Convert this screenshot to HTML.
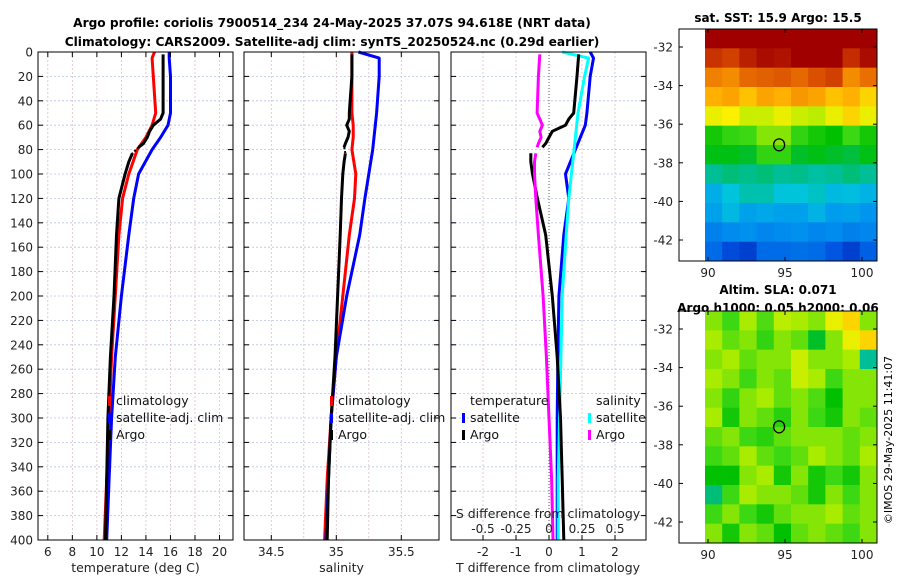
<!DOCTYPE html>
<html><head><meta charset="utf-8"><style>
body{margin:0;background:#fff;}
svg{display:block;font-family:"DejaVu Sans","Liberation Sans",sans-serif;}
</style></head><body>
<svg id="fig" width="900" height="580" viewBox="0 0 900 580">
<text x="332" y="27" text-anchor="middle" font-size="12.2" font-weight="bold">Argo profile: coriolis 7900514_234 24-May-2025 37.07S 94.618E (NRT data)</text>
<text x="332" y="46" text-anchor="middle" font-size="12.2" font-weight="bold">Climatology: CARS2009. Satellite-adj clim: synTS_20250524.nc (0.29d earlier)</text>
<text x="778" y="22" text-anchor="middle" font-size="12" font-weight="bold">sat. SST: 15.9 Argo: 15.5</text>
<text x="778" y="294" text-anchor="middle" font-size="12" font-weight="bold">Altim. SLA: 0.071</text>
<text x="778" y="312" text-anchor="middle" font-size="12" font-weight="bold">Argo h1000: 0.05 h2000: 0.06</text>
<text transform="translate(892,440) rotate(-90)" text-anchor="middle" font-size="11">©IMOS 29-May-2025 11:41:07</text>
<g id="plots"></g>
</svg>
<script>
// ---- profile data ----
const depths = [0, 5, 20, 50, 60, 70, 80, 100, 120, 150, 200, 250, 300, 350, 400];
const climTemp = [14.7, 14.5, 14.6, 14.8, 14.5, 14.0, 13.3, 12.6, 12.1, 11.8, 11.5, 11.2, 11.0, 10.8, 10.6];
const satTemp = [15.9, 15.9, 16.0, 16.0, 15.8, 15.2, 14.5, 13.4, 13.0, 12.6, 12.0, 11.5, 11.2, 11.0, 10.8];
const climSal = [35.12, 35.12, 35.12, 35.12, 35.13, 35.13, 35.12, 35.15, 35.14, 35.10, 35.05, 35.00, 34.96, 34.93, 34.91];
const satSal = [35.17, 35.33, 35.33, 35.31, 35.30, 35.29, 35.28, 35.25, 35.22, 35.18, 35.08, 35.00, 34.96, 34.94, 34.92];
const argoDepthsA = [2, 20, 50, 55, 60, 65, 70, 75, 78];
const argoTempA = [15.4, 15.4, 15.4, 15.2, 14.6, 14.3, 14.1, 13.8, 13.4];
const argoSalA = [35.12, 35.12, 35.10, 35.10, 35.08, 35.10, 35.09, 35.07, 35.06];
const argoDepthsB = [83, 90, 100, 120, 150, 200, 250, 300, 350, 400];
const argoTempB = [12.9, 12.6, 12.3, 11.8, 11.6, 11.4, 11.1, 10.9, 10.8, 10.7];
const argoSalB = [35.07, 35.06, 35.05, 35.04, 35.03, 35.01, 34.99, 34.96, 34.94, 34.93];
const diffSatT = [1.25, 1.35, 1.25, 1.15, 1.1, 0.95, 0.8, 0.5, 0.6, 0.45, 0.3, 0.27, 0.25, 0.25, 0.25];
const diffSatS = [0.1, 0.3, 0.27, 0.22, 0.21, 0.2, 0.19, 0.17, 0.15, 0.13, 0.1, 0.09, 0.08, 0.07, 0.07];
const diffArgoTA = [0.9, 0.85, 0.75, 0.6, 0.5, 0.1, 0.0, -0.1, -0.2];
const diffArgoSA = [-0.07, -0.08, -0.09, -0.07, -0.05, -0.07, -0.06, -0.08, -0.09];
const diffArgoTB = [-0.55, -0.55, -0.5, -0.35, -0.1, 0.1, 0.25, 0.35, 0.4, 0.45];
const diffArgoSB = [-0.1, -0.11, -0.11, -0.1, -0.08, -0.045, -0.02, 0.0, 0.02, 0.03];
const depthTicks = [0,20,40,60,80,100,120,140,160,180,200,220,240,260,280,300,320,340,360,380,400];
const tempTicks = [6,8,10,12,14,16,18,20];
const salTicks = [34.5,35,35.5];
const tdTicks = [-2,-1,0,1,2];
const sdTicks = [-0.5,-0.25,0,0.25,0.5];
const sdTickLabels = ["-0.5","-0.25","0","0.25","0.5"];
// ---- map data (colormap fraction) ----
const sstGrid = [
[1.0,1.0,1.0,1.0,1.0,1.0,1.0,1.0,1.0,1.0],
[0.92,0.9,0.95,0.98,0.97,1.0,1.0,1.0,0.93,0.98],
[0.82,0.8,0.85,0.86,0.87,0.85,0.88,0.9,0.8,0.84],
[0.74,0.76,0.72,0.76,0.74,0.78,0.76,0.72,0.74,0.7],
[0.66,0.67,0.64,0.64,0.66,0.64,0.63,0.66,0.7,0.66],
[0.52,0.55,0.56,0.6,0.6,0.55,0.52,0.5,0.56,0.52],
[0.49,0.49,0.48,0.55,0.55,0.48,0.49,0.48,0.47,0.49],
[0.42,0.44,0.43,0.44,0.42,0.43,0.41,0.42,0.44,0.42],
[0.32,0.36,0.4,0.4,0.36,0.36,0.38,0.34,0.35,0.33],
[0.3,0.34,0.3,0.31,0.3,0.3,0.33,0.29,0.3,0.28],
[0.24,0.26,0.27,0.25,0.26,0.27,0.25,0.26,0.24,0.25],
[0.2,0.14,0.12,0.2,0.2,0.21,0.2,0.16,0.12,0.18]];
const slaGrid = [
[0.6,0.56,0.62,0.57,0.63,0.62,0.6,0.66,0.7,0.6],
[0.62,0.58,0.6,0.55,0.6,0.58,0.48,0.6,0.66,0.7],
[0.6,0.62,0.58,0.6,0.6,0.64,0.6,0.6,0.62,0.42],
[0.62,0.6,0.56,0.6,0.58,0.64,0.62,0.56,0.6,0.6],
[0.6,0.55,0.6,0.62,0.58,0.6,0.57,0.5,0.6,0.6],
[0.62,0.52,0.6,0.58,0.54,0.6,0.56,0.52,0.6,0.58],
[0.58,0.6,0.56,0.54,0.58,0.6,0.6,0.6,0.58,0.6],
[0.56,0.58,0.62,0.58,0.56,0.58,0.62,0.6,0.58,0.62],
[0.5,0.5,0.6,0.62,0.52,0.6,0.52,0.56,0.52,0.6],
[0.44,0.56,0.62,0.6,0.6,0.58,0.52,0.6,0.56,0.6],
[0.56,0.6,0.56,0.52,0.58,0.6,0.6,0.62,0.58,0.6],
[0.6,0.52,0.6,0.58,0.5,0.58,0.6,0.58,0.56,0.6]];
const argoLon = 94.618, argoLat = -37.07;
const lonTicks = [90,95,100];
const latTicks = [-32,-34,-36,-38,-40,-42];

const NS = "http://www.w3.org/2000/svg";
const root = document.getElementById('plots');
function mk(tag, attrs, parent){const e=document.createElementNS(NS,tag);for(const k in attrs)e.setAttribute(k,attrs[k]);(parent||root).appendChild(e);return e;}

const PT = 52, PB = 540;
const yD = d => PT + d/400*(PB-PT);
function axisPanel(x0, x1, xmin, xmax, name){
  const g = mk('g',{});
  
  
  const sx = v => x0 + (v-xmin)/(xmax-xmin)*(x1-x0);
  return {g, sx};
}
function grid(g, x0, x1, xs){
  depthTicks.forEach(d=>{ if(d>0&&d<400){const l=mk('line',{x1:x0,x2:x1,y1:yD(d),y2:yD(d),stroke:'#b8c4e8','stroke-width':0.8,'stroke-dasharray':'2,2'},g);
    
    }});
  xs.forEach(x=>{const l=mk('line',{x1:x,x2:x,y1:PT,y2:PB,stroke:'#d8c0c8','stroke-width':0.8,'stroke-dasharray':'2,2'},g);
    
    });
}
function frame(g, x0, x1, yLabels){
  const r=mk('rect',{x:x0,y:PT,width:x1-x0,height:PB-PT,fill:'none',stroke:'#000','stroke-width':1},g);
  
  
  depthTicks.forEach(d=>{
    mk('line',{x1:x0,x2:x0+5,y1:yD(d),y2:yD(d),stroke:'#000'},g);
    mk('line',{x1:x1-5,x2:x1,y1:yD(d),y2:yD(d),stroke:'#000'},g);
    if(yLabels){const t=mk('text',{x:x0-5,y:yD(d)+4.5,'text-anchor':'end','font-size':12,fill:'#222'},g);t.textContent=d;
      
      }
  });
}
function xticks(g, sx, ticks, labels, y, topToo){
  ticks.forEach((v,i)=>{
    const x=sx(v);
    mk('line',{x1:x,x2:x,y1:PB-5,y2:PB,stroke:'#000'},g);
    if(topToo) mk('line',{x1:x,x2:x,y1:PT,y2:PT+5,stroke:'#000'},g);
    const t=mk('text',{x:x,y:y,'text-anchor':'middle','font-size':12,fill:'#222'},g);t.textContent=labels[i];
    
    
  });
}
function line(g, xs, ds, sx, color, name, w){
  const p=mk('polyline',{points:xs.map((v,i)=>sx(v).toFixed(1)+','+yD(ds[i]).toFixed(1)).join(' '),fill:'none',stroke:color,'stroke-width':w||3,'stroke-linejoin':'round'},g);
  
  
  return p;
}
function legend(g, x, y, items){
  items.forEach((it,i)=>{
    if(it.c){mk('rect',{x:x,y:y+i*17-9,width:3,height:10,fill:it.c},g);}
    const t=mk('text',{x:x+8,y:y+i*17,'font-size':12.5,fill:'#111'},g);t.textContent=it.t;
    
    
  });
}

// Panel 1: temperature
(function(){
  const x0=38,x1=233;const {g,sx}=axisPanel(x0,x1,5.2,21.1,'temperature-panel');
  grid(g,x0,x1,tempTicks.map(sx));
  line(g,climTemp,depths,sx,'#f00','climatology-temp-line');
  line(g,satTemp,depths,sx,'#00f','satellite-temp-line');
  line(g,argoTempA,argoDepthsA,sx,'#000','argo-temp-line-upper');
  line(g,[argoTempA[argoTempA.length-1],argoTempB[0]],[argoDepthsA[argoDepthsA.length-1],argoDepthsB[0]],sx,'#000','argo-temp-gap',2).setAttribute('stroke-dasharray','2,2');
  line(g,argoTempB,argoDepthsB,sx,'#000','argo-temp-line-lower');
  frame(g,x0,x1,true);
  xticks(g,sx,tempTicks,tempTicks,556,true);
  const t=mk('text',{x:(x0+x1)/2,y:572,'text-anchor':'middle','font-size':12.5,fill:'#222'},g);t.textContent='temperature (deg C)';
  
  
  legend(g,108,405,[{c:'#f00',t:'climatology'},{c:'#00f',t:'satellite-adj. clim'},{c:'#000',t:'Argo'}]);
})();
// Panel 2: salinity
(function(){
  const x0=244,x1=439;const {g,sx}=axisPanel(x0,x1,34.29,35.79,'salinity-panel');
  grid(g,x0,x1,[34.5,34.75,35,35.25,35.5].map(sx));
  line(g,climSal,depths,sx,'#f00','climatology-sal-line');
  line(g,satSal,depths,sx,'#00f','satellite-sal-line');
  line(g,argoSalA,argoDepthsA,sx,'#000','argo-sal-line-upper');
  line(g,[argoSalA[argoSalA.length-1],argoSalB[0]],[argoDepthsA[argoDepthsA.length-1],argoDepthsB[0]],sx,'#000','argo-sal-gap',2).setAttribute('stroke-dasharray','2,2');
  line(g,argoSalB,argoDepthsB,sx,'#000','argo-sal-line-lower');
  frame(g,x0,x1,false);
  xticks(g,sx,salTicks,salTicks,556,true);
  const t=mk('text',{x:(x0+x1)/2,y:572,'text-anchor':'middle','font-size':12.5,fill:'#222'},g);t.textContent='salinity';
  
  
  legend(g,330,405,[{c:'#f00',t:'climatology'},{c:'#00f',t:'satellite-adj. clim'},{c:'#000',t:'Argo'}]);
})();
// Panel 3: differences
(function(){
  const x0=451,x1=646;const {g,sx}=axisPanel(x0,x1,-2.97,2.94,'difference-panel');
  const ss = v => sx(v*4);
  grid(g,x0,x1,[-2,-1,1,2].map(sx));
  const z=mk('line',{x1:sx(0),x2:sx(0),y1:PT,y2:PB,stroke:'#555','stroke-width':1,'stroke-dasharray':'1,2'},g);
  
  
  line(g,diffSatT,depths,sx,'#00f','satellite-temp-diff-line');
  line(g,diffSatS,depths,ss,'#0ff','satellite-sal-diff-line');
  line(g,diffArgoTA,argoDepthsA,sx,'#000','argo-temp-diff-upper');
  line(g,diffArgoTB,argoDepthsB,sx,'#000','argo-temp-diff-lower');
  line(g,diffArgoSA,argoDepthsA,ss,'#f0f','argo-sal-diff-upper');
  line(g,diffArgoSB,argoDepthsB,ss,'#f0f','argo-sal-diff-lower');
  frame(g,x0,x1,false);
  xticks(g,sx,tdTicks,tdTicks,556,false);
  sdTicks.forEach((v,i)=>{const t=mk('text',{x:ss(v),y:533,'text-anchor':'middle','font-size':12,fill:'#222'},g);t.textContent=sdTickLabels[i];
    
    });
  const s=mk('text',{x:548,y:518,'text-anchor':'middle','font-size':12.5,fill:'#222'},g);s.textContent='S difference from climatology';
  
  
  const t=mk('text',{x:548,y:572,'text-anchor':'middle','font-size':12.5,fill:'#222'},g);t.textContent='T difference from climatology';
  
  
  legend(g,462,405,[{t:'temperature'},{c:'#00f',t:'satellite'},{c:'#000',t:'Argo'}]);
  legend(g,588,405,[{t:'salinity'},{c:'#0ff',t:'satellite'},{c:'#f0f',t:'Argo'}]);
})();
// Maps
const cmapStops = [[0,[0,0,140]],[0.15,[0,80,224]],[0.28,[0,150,240]],[0.36,[0,196,220]],[0.43,[0,190,140]],[0.5,[0,192,0]],[0.56,[60,216,20]],[0.62,[170,236,0]],[0.67,[250,240,0]],[0.74,[255,176,0]],[0.82,[240,128,0]],[0.9,[210,64,0]],[1,[160,0,0]]];
function cmap(v){
  v=Math.max(0,Math.min(1,v));
  for(let i=1;i<cmapStops.length;i++){
    if(v<=cmapStops[i][0]){const a=cmapStops[i-1],b=cmapStops[i];const f=(v-a[0])/(b[0]-a[0]);
      return 'rgb('+a[1].map((c,k)=>Math.round(c+(b[1][k]-c)*f)).join(',')+')';}
  }
  return 'rgb(160,0,0)';
}
function drawMap(top, gridv, name){
  const bx0=679,bx1=877,by0=top,by1=top+232,dx0=705;
  const g=mk('g',{});
  
  
  const lonX = lo => 708 + (lo-90)*15.4;
  const latY = la => top+18 + (-32-la)*19.3;
  const rows=gridv.length, cols=gridv[0].length;
  const cw=(bx1-dx0)/cols, ch=(by1-by0)/rows;
  gridv.forEach((row,r)=>row.forEach((v,c)=>{
    const cell=mk('rect',{x:(dx0+c*cw).toFixed(2),y:(by0+r*ch).toFixed(2),width:(cw+0.5).toFixed(2),height:(ch+0.5).toFixed(2),fill:cmap(v)},g);
    
    
  }));
  const fr=mk('rect',{x:bx0,y:by0,width:bx1-bx0,height:by1-by0,fill:'none',stroke:'#000'},g);
  
  
  latTicks.forEach(la=>{const y=latY(la);mk('line',{x1:bx0,x2:bx0+4,y1:y,y2:y,stroke:'#000'},g);mk('line',{x1:bx1-4,x2:bx1,y1:y,y2:y,stroke:'#000'},g);
    const t=mk('text',{x:bx0-6,y:y+4.5,'text-anchor':'end','font-size':12,fill:'#222'},g);t.textContent=la;
    
    });
  lonTicks.forEach(lo=>{const x=lonX(lo);mk('line',{x1:x,x2:x,y1:by1-4,y2:by1,stroke:'#000'},g);mk('line',{x1:x,x2:x,y1:by0,y2:by0+4,stroke:'#000'},g);
    const t=mk('text',{x:x,y:by1+16,'text-anchor':'middle','font-size':12,fill:'#222'},g);t.textContent=lo;
    
    });
  const c=mk('ellipse',{cx:lonX(argoLon),cy:latY(argoLat),rx:5.5,ry:6,fill:'none',stroke:'#000','stroke-width':1.3},g);
  
  
}
drawMap(29, sstGrid, 'sst-map');
drawMap(311, slaGrid, 'sla-map');
</script>
</body></html>
